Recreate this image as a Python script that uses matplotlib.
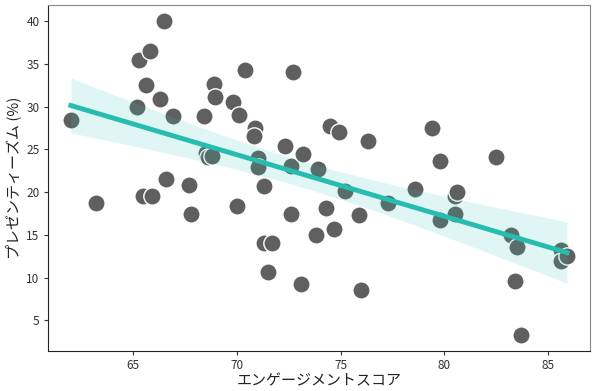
import matplotlib
matplotlib.use('Agg')
import matplotlib.pyplot as plt
import numpy as np

plt.rcParams['font.family'] = ['Noto Sans CJK JP', 'DejaVu Sans']

# engagement score vs presenteeism (%)
engagement = [62.0, 63.2, 65.2, 65.3, 65.8, 65.6, 65.5, 65.9, 66.3, 66.5,
              66.6, 66.9, 67.7, 67.8, 68.4, 68.5, 68.6, 68.8, 68.9, 68.95,
              69.8, 70.0, 70.1, 70.4, 70.85, 70.8, 71.0, 71.0, 71.3, 71.7,
              71.3, 71.5, 72.3, 72.7, 72.6, 72.6, 73.2, 73.1, 73.8, 73.9,
              74.3, 74.5, 74.9, 74.7, 75.2, 75.9, 76.3, 76.0, 77.3, 78.6,
              79.4, 79.8, 79.8, 80.5, 80.6, 80.5, 82.5, 83.2, 83.5, 83.4,
              83.7, 85.6, 85.6, 85.9]
presenteeism = [28.4, 18.7, 30.0, 35.5, 36.5, 32.5, 19.5, 19.5, 30.9, 40.0,
                21.6, 28.9, 20.9, 17.5, 28.9, 24.6, 24.1, 24.2, 32.7, 31.1,
                30.5, 18.4, 29.0, 34.3, 27.5, 26.6, 24.0, 22.9, 14.0, 14.1,
                20.7, 10.7, 25.4, 34.1, 23.1, 17.5, 24.5, 9.2, 15.0, 22.7,
                18.1, 27.7, 27.0, 15.7, 20.1, 17.3, 26.0, 8.5, 18.7, 20.4,
                27.5, 23.6, 16.8, 19.6, 20.0, 17.5, 24.1, 15.0, 13.6, 9.6,
                3.3, 13.2, 11.9, 12.5]

x = np.array(engagement)
y = np.array(presenteeism)

fig = plt.figure(figsize=(6, 3.91), dpi=100)
ax = fig.add_axes([0.08, 0.102, 0.903, 0.885])

ax.scatter(x, y, s=155, color='#5f5f5f', edgecolors='white', linewidths=1.0, zorder=2)

# linear fit with 95% confidence band
n = len(x)
slope, intercept = np.polyfit(x, y, 1)
xs = np.linspace(x.min(), x.max(), 100)
ys = intercept + slope * xs
resid = y - (intercept + slope * x)
s_err = np.sqrt(np.sum(resid ** 2) / (n - 2))
se = s_err * np.sqrt(1.0 / n + (xs - x.mean()) ** 2 / np.sum((x - x.mean()) ** 2))
t = 1.95
ax.fill_between(xs, ys - t * se, ys + t * se, color='#2ec4b6', alpha=0.15,
                linewidth=0, zorder=3)
ax.plot(xs, ys, color='#26bdb0', linewidth=3.5, zorder=4)

ax.set_xlim(60.9, 87.0)
ax.set_ylim(1.4, 41.9)
ax.set_xticks([65, 70, 75, 80, 85])
ax.set_yticks([5, 10, 15, 20, 25, 30, 35, 40])
ax.tick_params(labelsize=8.5, length=3, width=0.8, pad=3, colors='#333333')
ax.set_xlabel('エンゲージメントスコア', fontsize=10.8, labelpad=1, color='#222222')
ax.set_ylabel('プレゼンティーズム (%)', fontsize=10.8, labelpad=4, color='#222222')

for side in ['left', 'bottom']:
    ax.spines[side].set_color('#222222')
for side in ['top', 'right']:
    ax.spines[side].set_color('#888888')

fig.savefig('out.png', dpi=100)
